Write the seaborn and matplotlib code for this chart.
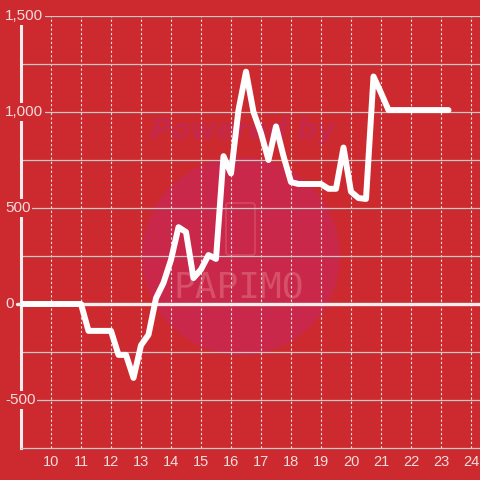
import matplotlib
matplotlib.use("Agg")
import matplotlib.pyplot as plt
from matplotlib.patches import Circle, FancyBboxPatch
import seaborn as sns
import pandas as pd

# hour of day (quarter steps) and running value
hours = [9.0, 9.25, 9.5, 9.75, 10.0, 10.25, 10.5, 10.75, 11.0,
         11.25, 11.5, 11.75, 12.0, 12.25, 12.5, 12.75, 13.0, 13.25,
         13.5, 13.75, 14.0, 14.25, 14.5, 14.75, 15.0, 15.25, 15.5,
         15.75, 16.0, 16.25, 16.5, 16.75, 17.0, 17.25, 17.5, 17.75,
         18.0, 18.25, 18.5, 18.75, 19.0, 19.25, 19.5, 19.75, 20.0,
         20.25, 20.5, 20.75, 21.0, 21.25, 21.5, 21.75, 22.0, 22.25,
         22.5, 22.75, 23.0, 23.25]
values = [0, 0, 0, 0, 0, 0, 0, 0, 0,
          -140, -140, -140, -140, -265, -265, -385, -215, -160,
          30, 110, 230, 400, 375, 135, 180, 255, 235,
          770, 680, 1010, 1210, 1000, 890, 750, 925, 770,
          635, 625, 625, 625, 625, 600, 600, 815, 585,
          552, 547, 1185, 1100, 1010, 1010, 1010, 1010, 1010,
          1010, 1010, 1010, 1010]

xticks = [10, 11, 12, 13, 14, 15, 16, 17, 18, 19, 20, 21, 22, 23, 24]
yticks = [-500, 0, 500, 1000, 1500]
ygrid = [-500, -250, 250, 500, 750, 1000, 1250, 1500]

df = pd.DataFrame({"hour": hours, "value": values})

bg = "#cc2a2f"
txt = "#f4dcdc"

sns.set_style("white")
plt.rcParams["font.family"] = ["Liberation Sans", "DejaVu Sans"]

fig = plt.figure(figsize=(4.8, 4.8), dpi=100, facecolor=bg)
ax = fig.add_axes([21 / 480, 32 / 480, 459 / 480, 432 / 480])
ax.set_facecolor(bg)

# watermark, kept under the grid and the line
ax.add_patch(Circle((241 / 480, 1 - 256 / 480), 99 / 480, transform=fig.transFigure,
                    facecolor="#c9284a", edgecolor="none", zorder=0.1))
ax.add_patch(FancyBboxPatch((226 / 480, 1 - 255 / 480), 29 / 480, 52 / 480,
                            boxstyle="round,pad=0,rounding_size=0.006",
                            transform=fig.transFigure, facecolor="none",
                            edgecolor="#d4485f", lw=1.2, zorder=0.2))
ax.text(243 / 480, 1 - 131 / 480, "Powered by", ha="center", va="center",
        fontsize=20, fontweight="bold", style="italic", color="#c6284a",
        family="DejaVu Sans", transform=fig.transFigure, zorder=0.2)
ax.text(239 / 480, 1 - 287 / 480, "PAPIMO", ha="center", va="center",
        fontsize=26, color="#d6506a", family="DejaVu Sans Mono",
        transform=fig.transFigure, zorder=0.2)

for yv in ygrid:
    ax.axhline(yv, color="#c8c8c8", lw=0.9, zorder=1)
ax.axhline(0, xmin=-4 / 459, xmax=1, color="#f2eeee", lw=2.4, zorder=1.5, clip_on=False)

sns.lineplot(data=df, x="hour", y="value", ax=ax, color="#fefefe", lw=4.3, zorder=3)

ax.set_xlim(9, 24.3)
ax.set_ylim(-750, 1500)
ax.set_xticks(xticks)
ax.set_xticklabels([str(t) for t in xticks])
ax.set_yticks([])
ax.set_xlabel("")
ax.set_ylabel("")
ax.grid(axis="x", color="#ece4e4", lw=0.8, linestyle=(0, (2, 2)), zorder=1)
ax.set_axisbelow(True)
ax.tick_params(axis="x", length=0, pad=5, labelsize=10.5, labelcolor=txt)

for s in ["top", "right"]:
    ax.spines[s].set_visible(False)
ax.spines["left"].set_color("#f2eeee")
ax.spines["left"].set_linewidth(2.2)
ax.spines["bottom"].set_color("#c8c8c8")
ax.spines["bottom"].set_linewidth(0.9)

for yv in yticks:
    ax.text(-16 / 459, yv, f"{yv:,}", transform=ax.get_yaxis_transform(),
            ha="left", va="center", fontsize=11, color=txt, zorder=10,
            bbox=dict(boxstyle="square,pad=0.12", facecolor=bg, edgecolor="none"))

fig.savefig("out.png", dpi=100, facecolor=bg)
